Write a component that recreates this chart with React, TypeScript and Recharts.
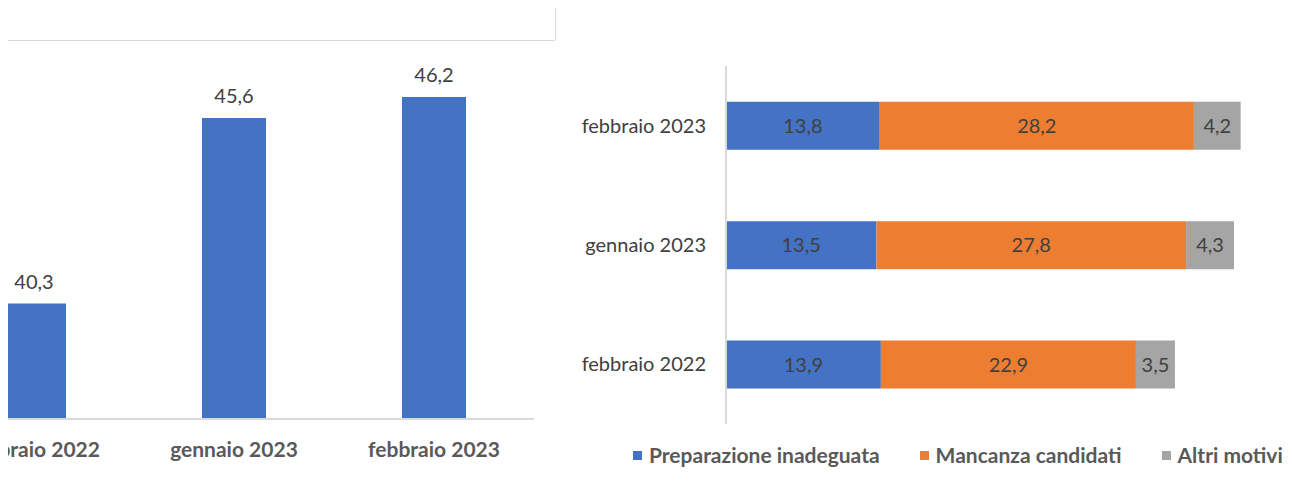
import { BarChart, Bar, XAxis, YAxis, LabelList } from 'recharts';

// Posti vacanti difficili da reperire (%)
const mesi = ['febbraio 2022', 'gennaio 2023', 'febbraio 2023'];
const totale = [40.3, 45.6, 46.2];

const motivi = ['Preparazione inadeguata', 'Mancanza candidati', 'Altri motivi'];
const preparazione = [13.9, 13.5, 13.8];
const mancanza = [22.9, 27.8, 28.2];
const altri = [3.5, 4.3, 4.2];

const colori = ['#4472C4', '#ED7D31', '#A5A5A5'];
const font = 'Lato, "Open Sans", sans-serif';

const datiTotale = mesi.map((m, i) => ({ mese: m, valore: totale[i] }));
const datiMotivi = mesi.map((m, i) => ({
  mese: m,
  preparazione: preparazione[i],
  mancanza: mancanza[i],
  altri: altri[i],
}));
const chiavi = ['preparazione', 'mancanza', 'altri'];

const virgola = (v: any) => String(v).replace('.', ',');

export default function App() {
  return (
    <div style={{ position: 'relative', width: 1276, height: 465, fontFamily: font }}>
      {/* cornice del grafico di sinistra */}
      <div style={{ position: 'absolute', left: 0, top: 32, width: 547, height: 1, background: '#d9d9d9' }} />
      <div style={{ position: 'absolute', left: 547, top: 0, width: 1, height: 32, background: '#d9d9d9' }} />
      <div style={{ position: 'absolute', left: 0, top: 468, width: 547, height: 1, background: '#d9d9d9' }} />
      <div style={{ position: 'absolute', left: 547, top: 468, width: 1, height: 10, background: '#d9d9d9' }} />

      <div style={{ position: 'absolute', left: 0, top: 0, width: 548, height: 468, overflow: 'hidden' }}>
        <div style={{ position: 'absolute', left: -74, top: 26 }}>
          <BarChart
            width={602}
            height={437}
            data={datiTotale}
            margin={{ top: 0, right: 2, left: 0, bottom: 0 }}
            barCategoryGap="34%"
          >
            <XAxis
              dataKey="mese"
              height={52}
              axisLine={{ stroke: '#d9d9d9', strokeWidth: 2 }}
              tickLine={false}
              tickMargin={17}
              tick={{ fill: '#595959', fontSize: 21, fontWeight: 700, fontFamily: font }}
            />
            <YAxis hide domain={[37, 48]} />
            <Bar dataKey="valore" fill={colori[0]} isAnimationActive={false}>
              <LabelList
                dataKey="valore"
                position="top"
                offset={15}
                formatter={virgola}
                style={{ fill: '#404040', fontSize: 20, fontFamily: font }}
              />
            </Bar>
          </BarChart>
        </div>
      </div>

      <div style={{ position: 'absolute', left: 552, top: 52 }}>
        <BarChart
          width={723}
          height={364}
          data={datiMotivi}
          layout="vertical"
          margin={{ top: 6, right: 0, left: 0, bottom: 0 }}
          barCategoryGap="30%"
        >
          <XAxis type="number" hide domain={[0, 50]} />
          <YAxis
            type="category"
            dataKey="mese"
            reversed
            width={166}
            axisLine={{ stroke: '#d9d9d9', strokeWidth: 2 }}
            tickLine={false}
            tickMargin={14}
            tick={{ fill: '#404040', fontSize: 20, fontFamily: font }}
          />
          {chiavi.map((k, i) => (
            <Bar key={k} dataKey={k} name={motivi[i]} stackId="a" fill={colori[i]} isAnimationActive={false}>
              <LabelList
                dataKey={k}
                position="center"
                formatter={virgola}
                style={{ fill: '#404040', fontSize: 20, fontFamily: font }}
              />
            </Bar>
          ))}
        </BarChart>
      </div>

      {/* legenda */}
      <div
        style={{
          position: 'absolute',
          left: 625,
          top: 435,
          width: 'max-content',
          display: 'flex',
          alignItems: 'center',
          whiteSpace: 'nowrap',
        }}
      >
        {motivi.map((m, i) => (
          <div key={m} style={{ display: 'flex', alignItems: 'center', flexShrink: 0, marginRight: i < 2 ? 40 : 0 }}>
            <span style={{ width: 9, height: 9, background: colori[i], display: 'inline-block', marginRight: 7 }} />
            <span style={{ color: '#595959', fontSize: 21, fontWeight: 700, lineHeight: '24px' }}>{m}</span>
          </div>
        ))}
      </div>
    </div>
  );
}
